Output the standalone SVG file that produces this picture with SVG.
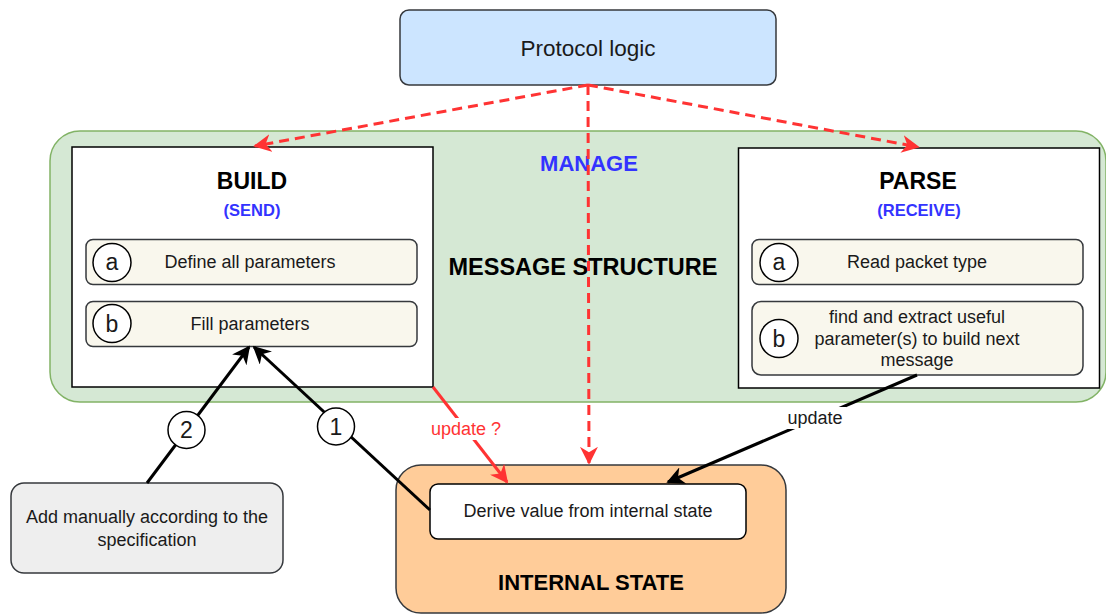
<svg xmlns="http://www.w3.org/2000/svg" width="1106" height="614" viewBox="0 0 1106 614">
<style>
text{font-family:"Liberation Sans",Arial,Helvetica,sans-serif;fill:#1a1a1a;text-anchor:middle}
.t18{font-size:18px}
.title{font-size:23px;font-weight:bold;fill:#000}
.sub{font-size:16.5px;font-weight:bold;fill:#3333ff}
.lbl{font-size:23px}
.item{fill:#f9f7ed;stroke:#36393d;stroke-width:1.5}
.circ{fill:#fff;stroke:#000;stroke-width:1.5}
.red{stroke:#ff3333;stroke-width:3;fill:none}
.blk{stroke:#000;stroke-width:3;fill:none}
</style>
<defs>
<marker id="ar" viewBox="0 0 10 10" refX="9" refY="5" markerWidth="6" markerHeight="6" orient="auto"><path d="M0,0 L10,5 L0,10 L3,5 z" fill="#ff3333"/></marker>
<marker id="ab" viewBox="0 0 10 10" refX="9" refY="5" markerWidth="6" markerHeight="6" orient="auto"><path d="M0,0 L10,5 L0,10 L3,5 z" fill="#000"/></marker>
</defs>
<rect width="1106" height="614" fill="#fff"/>
<g id="message-structure">
<rect x="50" y="131" width="1056" height="271" rx="30" fill="#d5e8d4" stroke="#82b366" stroke-width="1.5"/>
<text x="589" y="171" style="font-size:22px;font-weight:bold;fill:#3333ff">MANAGE</text>
<text x="583" y="275" style="font-size:23.5px;font-weight:bold;fill:#000">MESSAGE STRUCTURE</text>
</g>
<g id="internal-state">
<rect x="396" y="465" width="390" height="148" rx="25" fill="#ffcc99" stroke="#36393d" stroke-width="1.5"/>
<text x="591" y="590" style="font-size:22px;font-weight:bold;fill:#000">INTERNAL STATE</text>
</g>
<g id="protocol-logic">
<rect x="400" y="10" width="376" height="75" rx="9" fill="#cce5ff" stroke="#36393d" stroke-width="1.5"/>
<text x="588" y="56" style="font-size:22.5px">Protocol logic</text>
</g>
<g id="build">
<rect x="72" y="147" width="361" height="240" fill="#fff" stroke="#000" stroke-width="1.5"/>
<text x="252" y="189" class="title">BUILD</text>
<text x="252" y="215.5" class="sub">(SEND)</text>
</g>
<g id="build-a">
<rect x="86" y="239.5" width="331" height="45" rx="7" class="item"/>
<circle cx="112" cy="262.5" r="19" class="circ"/>
<text x="112" y="270" class="lbl">a</text>
<text x="250" y="268" class="t18">Define all parameters</text>
</g>
<g id="build-b">
<rect x="86" y="301.5" width="331" height="45" rx="7" class="item"/>
<circle cx="112" cy="323.5" r="19" class="circ"/>
<text x="112" y="331.5" class="lbl">b</text>
<text x="250" y="329.5" class="t18">Fill parameters</text>
</g>
<g id="parse">
<rect x="738.5" y="148" width="361" height="240" fill="#fff" stroke="#000" stroke-width="1.5"/>
<text x="918" y="189" class="title">PARSE</text>
<text x="919" y="215.5" class="sub">(RECEIVE)</text>
</g>
<g id="parse-a">
<rect x="752" y="239.5" width="331" height="45" rx="7" class="item"/>
<circle cx="779" cy="262.5" r="19" class="circ"/>
<text x="779" y="270" class="lbl">a</text>
<text x="917" y="268" class="t18">Read packet type</text>
</g>
<g id="parse-b">
<rect x="752" y="301.5" width="331" height="73.5" rx="9" class="item"/>
<circle cx="779" cy="338.5" r="19" class="circ"/>
<text x="779" y="346.5" class="lbl">b</text>
<text x="917" y="323" class="t18">find and extract useful</text>
<text x="917" y="344.5" class="t18">parameter(s) to build next</text>
<text x="917" y="366" class="t18">message</text>
</g>
<g id="derive">
<rect x="430" y="484" width="316" height="55" rx="8" fill="#fff" stroke="#000" stroke-width="1.5"/>
<text x="588" y="517" class="t18">Derive value from internal state</text>
</g>
<g id="add-manually">
<rect x="11" y="483" width="272" height="90" rx="13" fill="#eeeeee" stroke="#36393d" stroke-width="1.5"/>
<text x="147" y="523" class="t18">Add manually according to the</text>
<text x="147" y="546" class="t18">specification</text>
</g>
<g id="connectors">
<path d="M588,85 L255,146" class="red" stroke-dasharray="10 6" marker-end="url(#ar)"/>
<path d="M588,85 L918,147" class="red" stroke-dasharray="10 6" marker-end="url(#ar)"/>
<path d="M588,85 L589,463" class="red" stroke-dasharray="10 6" marker-end="url(#ar)"/>
<path d="M433,387 L507,482" class="red" marker-end="url(#ar)"/>
<rect x="428" y="418" width="76" height="22" fill="#fff"/>
<text x="466" y="435" class="t18" style="fill:#ff3333">update ?</text>
<path d="M917,375 L668,482" class="blk" marker-end="url(#ab)"/>
<rect x="786" y="407" width="60" height="22" fill="#fff"/>
<text x="815" y="424" class="t18">update</text>
<path d="M147,483 L249,347" class="blk" marker-end="url(#ab)"/>
<path d="M430,510 L254,347" class="blk" marker-end="url(#ab)"/>
<circle cx="186.5" cy="430" r="18.5" class="circ"/>
<text x="186.5" y="438" class="lbl">2</text>
<circle cx="336" cy="426.5" r="18.5" class="circ"/>
<text x="336" y="434.5" class="lbl">1</text>
</g>
</svg>
